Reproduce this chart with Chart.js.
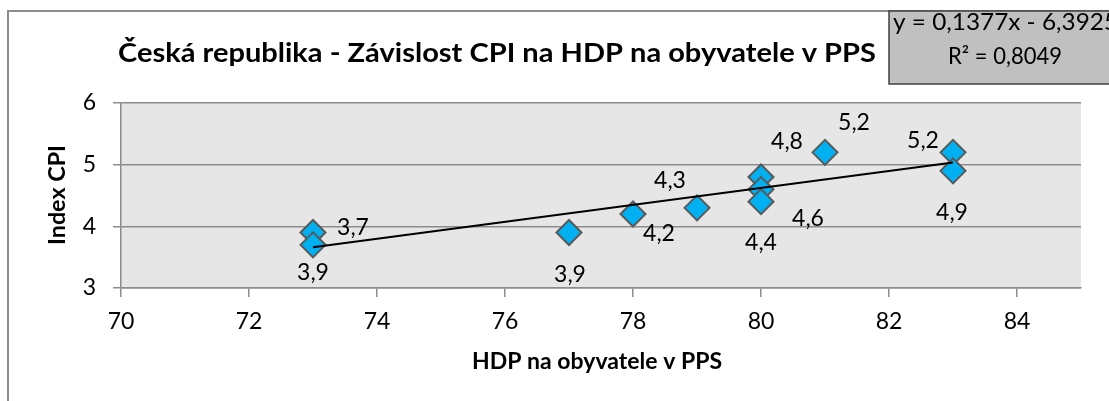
<!DOCTYPE html>
<html>
<head>
<meta charset="utf-8">
<script src="https://cdn.jsdelivr.net/npm/chart.js@4/dist/chart.umd.min.js"></script>
<style>
  html, body { margin: 0; padding: 0; background: #ffffff; }
  #wrap { width: 1109px; height: 401px; position: relative; overflow: hidden; }
</style>
</head>
<body>
<div id="wrap"><canvas id="c" width="1109" height="401"></canvas></div>
<script>
// ---- data ----
const hdp = [73, 73, 77, 78, 79, 80, 80, 80, 81, 83, 83];
const cpi = [3.9, 3.7, 3.9, 4.2, 4.3, 4.8, 4.6, 4.4, 5.2, 5.2, 4.9];
const pointLabels = ['3,7', '3,9', '3,9', '4,2', '4,3', '4,8', '4,6', '4,4', '5,2', '5,2', '4,9'];
const xTicks = [70, 72, 74, 76, 78, 80, 82, 84];
const yTicks = [3, 4, 5, 6];
const trendSlope = 0.1377;
const trendIntercept = -6.3925;
const trendRange = [73, 83];
const titleText = 'Česká republika - Závislost CPI na HDP na obyvatele v PPS';
const xTitleText = 'HDP na obyvatele v PPS';
const yTitleText = 'Index CPI';
const eqLine1 = 'y = 0,1377x - 6,3925';
const eqLine2 = 'R² = 0,8049';

// ---- styling (label placement offsets in px, relative to marker) ----
const labelOffsets = [[40,-5],[0,28],[1,42],[26,20],[-27,-27],[26,-35],[47,29],[0,41],[29,-30],[-30,-12],[-1,42]];
const FONT = 'Lato, "Open Sans", sans-serif';

const scatterData = hdp.map((x, i) => ({ x: x, y: cpi[i] }));
const trendData = trendRange.map(x => ({ x: x, y: trendSlope * x + trendIntercept }));

// draw text horizontally condensed (Calibri-like proportions), fitted to a target width
function drawFitted(ctx, text, weight, size, targetW, x, y, align, rot) {
  ctx.save();
  ctx.font = weight + ' ' + size + 'px ' + FONT;
  const w = ctx.measureText(text).width;
  const sx = targetW / w;
  ctx.translate(x, y);
  if (rot) ctx.rotate(rot);
  ctx.scale(sx, 1);
  ctx.textAlign = align;
  ctx.textBaseline = 'middle';
  ctx.fillStyle = '#000000';
  ctx.fillText(text, 0, 0);
  ctx.restore();
}

const decor = {
  id: 'decor',
  beforeDraw(chart) {
    const ctx = chart.ctx, a = chart.chartArea;
    ctx.save();
    ctx.fillStyle = '#ffffff';
    ctx.fillRect(0, 0, chart.width, chart.height);
    ctx.strokeStyle = '#8c8c8c';
    ctx.lineWidth = 2;
    ctx.strokeRect(8, 11, 1200, 500);
    ctx.fillStyle = '#e6e6e6';
    ctx.fillRect(a.left, a.top, a.right - a.left, a.bottom - a.top);
    ctx.restore();
  },
  afterDatasetsDraw(chart) {
    const ctx = chart.ctx;
    const meta = chart.getDatasetMeta(1);
    ctx.save();
    ctx.fillStyle = '#000000';
    ctx.font = '23px ' + FONT;
    ctx.textAlign = 'center';
    ctx.textBaseline = 'middle';
    meta.data.forEach((el, i) => {
      const o = labelOffsets[i];
      ctx.fillText(pointLabels[i], el.x + o[0], el.y + o[1]);
    });
    ctx.restore();
  },
  afterDraw(chart) {
    const ctx = chart.ctx;
    drawFitted(ctx, titleText, 'bold', 27, 758, 497, 53, 'center', 0);
    drawFitted(ctx, xTitleText, 'bold', 22, 250, 597, 362, 'center', 0);
    drawFitted(ctx, yTitleText, 'bold', 22, 100, 58, 195, 'center', -Math.PI / 2);
    ctx.save();
    ctx.fillStyle = '#c0c0c0';
    ctx.fillRect(889, 11, 240, 73);
    ctx.strokeStyle = '#404040';
    ctx.lineWidth = 1.5;
    ctx.strokeRect(889, 11, 240, 73);
    ctx.restore();
    drawFitted(ctx, eqLine1, 'normal', 23, 225, 893, 23, 'left', 0);
    drawFitted(ctx, eqLine2, 'normal', 23, 114, 1005, 57, 'center', 0);
  }
};

new Chart(document.getElementById('c'), {
  type: 'scatter',
  data: {
    datasets: [
      {
        label: 'trend',
        data: trendData,
        showLine: true,
        borderColor: '#000000',
        borderWidth: 2,
        pointRadius: 0,
        fill: false
      },
      {
        label: 'CPI',
        data: scatterData,
        pointStyle: 'rectRot',
        pointRadius: 12.5,
        pointBackgroundColor: '#00b0f0',
        pointBorderColor: '#595959',
        pointBorderWidth: 2
      }
    ]
  },
  plugins: [decor],
  options: {
    responsive: false,
    animation: false,
    devicePixelRatio: 1,
    layout: { padding: { left: 0, top: 103, right: 28, bottom: 0 } },
    plugins: { legend: { display: false }, tooltip: { enabled: false }, title: { display: false } },
    scales: {
      x: {
        type: 'linear',
        min: 70,
        max: 85,
        afterBuildTicks(scale) { scale.ticks = xTicks.map(v => ({ value: v })); },
        afterFit(scale) { scale.height = 113; },
        grid: { drawOnChartArea: false, drawTicks: true, tickLength: 9, color: '#8c8c8c', lineWidth: 1.5 },
        border: { display: true, color: '#8c8c8c', width: 1.5 },
        ticks: { color: '#000000', font: { family: FONT, size: 23 }, padding: 11, maxRotation: 0 }
      },
      y: {
        type: 'linear',
        min: 3,
        max: 6,
        afterBuildTicks(scale) { scale.ticks = yTicks.map(v => ({ value: v })); },
        afterFit(scale) { scale.width = 121; },
        grid: { drawOnChartArea: true, drawTicks: true, tickLength: 8, color: '#8c8c8c', lineWidth: 1.5 },
        border: { display: true, color: '#8c8c8c', width: 1.5 },
        ticks: { color: '#000000', font: { family: FONT, size: 23 }, padding: 17 }
      }
    }
  }
});
</script>
</body>
</html>
